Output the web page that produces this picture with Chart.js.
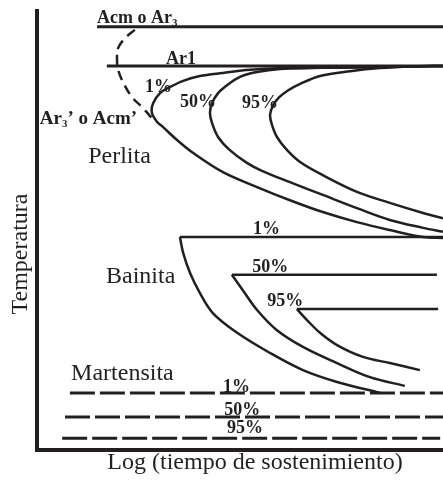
<!DOCTYPE html>
<html>
<head>
<meta charset="utf-8">
<script src="https://cdn.jsdelivr.net/npm/chart.js@4.4.1/dist/chart.umd.min.js"></script>
<style>
  html, body { margin: 0; padding: 0; background: #fff; overflow: hidden; }
</style>
</head>
<body>
<canvas id="ttt" width="443" height="480"></canvas>
<script>
// Diagrama TTT: x = log(tiempo) 0-100, y = temperatura 0-100 (unidades relativas)
const INK = "#231f20";

// Lineas criticas
const acmX = [14.8, 100];
const acmY = [96.4, 96.4];
const ar1X = [17.2, 100];
const ar1Y = [87.5, 87.5];

// Ar3' o Acm' (discontinua)
const arpX = [24.1, 21.7, 20.0, 19.7, 20.0, 21.2, 23.4, 26.1, 29.1];
const arpY = [95.7, 93.8, 91.6, 89.3, 86.6, 83.8, 80.4, 77.9, 74.7];

// Perlita 1%, 50%, 95% (rama superior y luego inferior)
const p1X = [100, 94.3, 84.5, 72.2, 62.3, 52.5, 45.8, 40.1, 36.0, 32.8, 30.3, 28.6, 28.3, 29.6, 31.0, 34.5, 38.4, 45.8, 54.2, 62.3, 70.4, 78.8, 86.9, 95.1, 100];
const p1Y = [87.5, 87.4, 87.2, 87.1, 87.0, 86.6, 85.9, 85.2, 84.1, 82.7, 81.3, 79.0, 76.8, 74.7, 73.6, 70.6, 67.7, 63.3, 59.9, 56.9, 54.2, 51.9, 50.1, 48.5, 48.3];
const p50X = [100, 94.3, 79.6, 67.2, 59.9, 54.2, 50.0, 46.8, 44.6, 43.1, 42.6, 43.1, 44.6, 47.5, 51.7, 55.4, 62.3, 70.4, 78.8, 86.9, 95.1, 100];
const p50Y = [87.5, 87.4, 87.2, 87.0, 86.8, 86.1, 85.0, 83.1, 81.3, 79.0, 76.8, 74.5, 71.3, 68.3, 65.4, 63.6, 61.0, 58.1, 55.1, 52.4, 50.6, 49.7];
const p95X = [100, 94.3, 84.5, 77.1, 69.7, 64.8, 61.8, 59.6, 58.1, 57.4, 57.9, 59.1, 61.6, 64.8, 70.4, 78.8, 86.9, 95.1, 100];
const p95Y = [87.5, 87.4, 87.0, 86.3, 85.2, 83.4, 81.9, 80.3, 78.4, 76.3, 74.0, 71.3, 68.3, 65.6, 62.6, 58.8, 56.3, 54.0, 52.8];

// Bainita: tramo horizontal + curva
const b1LineX = [35.2, 100];
const b1LineY = [48.5, 48.5];
const b1X = [35.2, 36.0, 37.7, 40.1, 43.3, 49.3, 57.4, 65.5, 73.9, 84.5];
const b1Y = [48.5, 44.9, 40.3, 35.8, 31.2, 26.7, 22.1, 18.2, 15.5, 13.0];
const b50LineX = [48.0, 98.5];
const b50LineY = [39.9, 39.9];
const b50X = [48.0, 50.7, 54.2, 59.1, 65.5, 73.9, 82.0, 90.6];
const b50Y = [39.9, 36.4, 31.9, 27.3, 23.5, 19.8, 16.6, 14.6];
const b95LineX = [64.0, 98.8];
const b95LineY = [32.1, 32.1];
const b95X = [64.0, 66.5, 69.7, 73.9, 80.3, 86.9, 94.3];
const b95Y = [32.1, 29.6, 26.7, 23.9, 21.2, 19.8, 18.2];

// Martensita (discontinuas)
const m1X = [8.1, 100];
const m1Y = [13.0, 13.0];
const m50X = [6.9, 100];
const m50Y = [7.5, 7.5];
const m95X = [6.2, 99.3];
const m95Y = [2.7, 2.7];

function pts(xs, ys) {
  return xs.map((v, i) => ({ x: v, y: ys[i] }));
}

function line(xs, ys, opts) {
  return Object.assign({
    data: pts(xs, ys),
    borderColor: INK,
    borderWidth: 2.5,
    pointRadius: 0,
    showLine: true,
    fill: false,
    tension: 0
  }, opts || {});
}

// Textos dentro del grafico
const labels = [
  { parts: [{ t: "Acm o Ar" }, { t: "3", sub: true }], x: 14.8, y: 97.3, size: 18, bold: true },
  { parts: [{ t: "Ar1" }], x: 31.8, y: 87.9, size: 18, bold: true },
  { parts: [{ t: "1%" }], x: 26.6, y: 81.5, size: 18, bold: true },
  { parts: [{ t: "50%" }], x: 35.2, y: 78.1, size: 18, bold: true },
  { parts: [{ t: "95%" }], x: 50.5, y: 77.9, size: 18, bold: true },
  { parts: [{ t: "Ar" }, { t: "3", sub: true }, { t: "\u2019 o Acm\u2019" }], x: 0.7, y: 74.3, size: 19, bold: true },
  { parts: [{ t: "Perlita" }], x: 12.6, y: 65.4, size: 24, bold: false },
  { parts: [{ t: "1%" }], x: 53.2, y: 49.2, size: 18, bold: true },
  { parts: [{ t: "Bainita" }], x: 17.0, y: 38.0, size: 24, bold: false },
  { parts: [{ t: "50%" }], x: 53.0, y: 40.5, size: 18, bold: true },
  { parts: [{ t: "95%" }], x: 56.7, y: 32.8, size: 18, bold: true },
  { parts: [{ t: "Martensita" }], x: 8.4, y: 15.9, size: 24, bold: false },
  { parts: [{ t: "1%" }], x: 45.8, y: 13.2, size: 18, bold: true },
  { parts: [{ t: "50%" }], x: 46.1, y: 8.0, size: 18, bold: true },
  { parts: [{ t: "95%" }], x: 46.8, y: 3.9, size: 18, bold: true }
];

const textPlugin = {
  id: "tttText",
  afterDatasetsDraw(chart) {
    const { ctx, chartArea, scales } = chart;
    ctx.save();
    ctx.fillStyle = INK;
    ctx.textBaseline = "alphabetic";
    ctx.textAlign = "left";
    labels.forEach(l => {
      let px = scales.x.getPixelForValue(l.x);
      const py = scales.y.getPixelForValue(l.y);
      l.parts.forEach(p => {
        const size = p.sub ? Math.round(l.size * 0.6) : l.size;
        ctx.font = (l.bold ? "bold " : "") + size + 'px "Liberation Serif"';
        ctx.fillText(p.t, px, py + (p.sub ? 3 : 0));
        px += ctx.measureText(p.t).width;
      });
    });

    // titulos de ejes
    ctx.font = '24px "Liberation Serif"';
    ctx.textAlign = "center";
    ctx.fillText("Log (tiempo de sostenimiento)", 255, chartArea.bottom + 19);
    ctx.translate(27, 254);
    ctx.rotate(-Math.PI / 2);
    ctx.fillText("Temperatura", 0, 0);
    ctx.restore();
  }
};

new Chart(document.getElementById("ttt"), {
  type: "scatter",
  data: {
    datasets: [
      line(acmX, acmY, { borderWidth: 3 }),
      line(ar1X, ar1Y, { borderWidth: 3 }),
      line(arpX, arpY, { borderDash: [10, 6], tension: 0.4 }),
      line(p1X, p1Y, { tension: 0.35 }),
      line(p50X, p50Y, { tension: 0.35 }),
      line(p95X, p95Y, { tension: 0.35 }),
      line(b1LineX, b1LineY),
      line(b1X, b1Y, { tension: 0.35 }),
      line(b50LineX, b50LineY),
      line(b50X, b50Y, { tension: 0.35 }),
      line(b95LineX, b95LineY),
      line(b95X, b95Y, { tension: 0.35 }),
      line(m1X, m1Y, { borderDash: [25, 5], borderWidth: 3 }),
      line(m50X, m50Y, { borderDash: [25, 5], borderWidth: 3 }),
      line(m95X, m95Y, { borderDash: [25, 5], borderWidth: 3 })
    ]
  },
  options: {
    responsive: false,
    animation: false,
    devicePixelRatio: 1,
    layout: { padding: { left: 37, top: 11, right: 0, bottom: 30 } },
    plugins: { legend: { display: false }, tooltip: { enabled: false } },
    scales: {
      x: {
        type: "linear", min: 0, max: 100,
        grid: { display: false, drawTicks: false },
        ticks: { display: false },
        border: { display: true, color: INK, width: 4 }
      },
      y: {
        type: "linear", min: 0, max: 100,
        grid: { display: false, drawTicks: false },
        ticks: { display: false },
        border: { display: true, color: INK, width: 4 }
      }
    }
  },
  plugins: [textPlugin]
});
</script>
</body>
</html>
